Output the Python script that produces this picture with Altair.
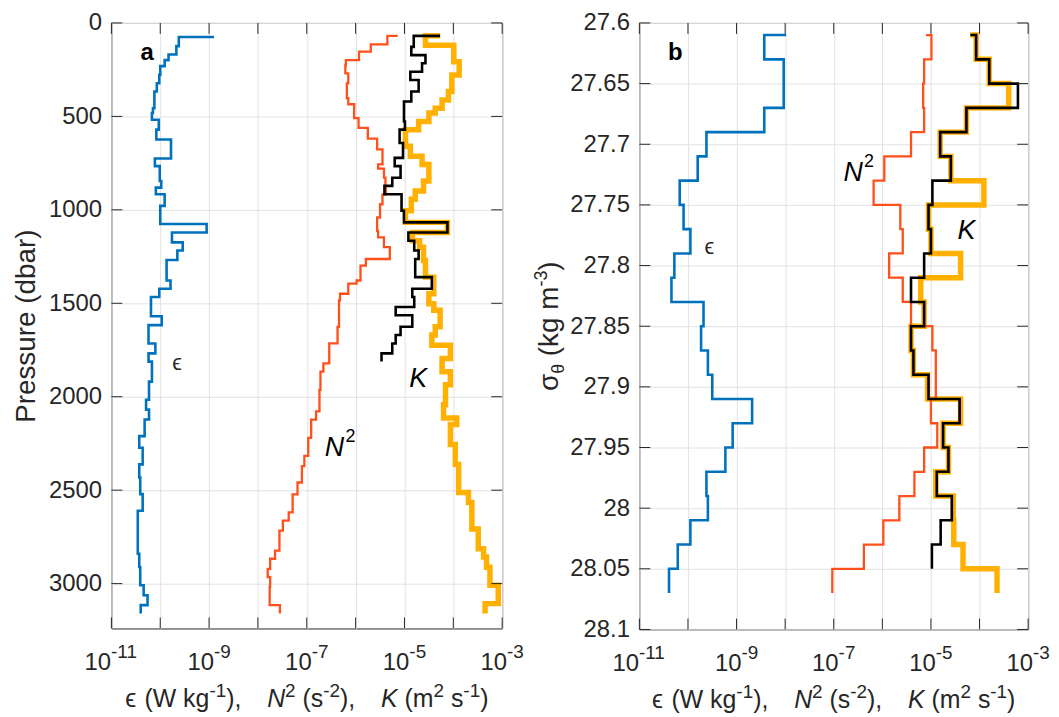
import altair as alt
import pandas as pd

FONT = "Liberation Sans"
INK = "#262626"
GRID = "#e2e2e2"
BLUE = "#0072BD"
RED = "#FF4F1A"
GOLD = "#FFB000"
BLACK = "#000000"

# ---------------- panel a : pressure (dbar) vs log10 value ----------------
eps_a_p = [75, 124, 169, 199, 231, 278, 323, 367, 456, 482, 518, 571, 624, 725, 766, 846, 881, 917,
           979, 1076, 1121, 1174, 1218, 1268, 1378, 1422, 1466, 1569, 1617, 1715, 1768, 1812, 1919,
           2016, 2069, 2122, 2211, 2273, 2362, 2432, 2521, 2610, 2752, 2840, 2911, 3009, 3062, 3115, 3160]
eps_a_log = [-8.90, -9.62, -9.67, -9.83, -9.91, -10.00, -10.02, -10.07, -10.12, -10.15, -10.17, -10.03,
             -10.08, -9.78, -10.11, -10.01, -9.98, -10.09, -9.91, -10.00, -9.05, -9.76, -9.54, -9.65,
             -9.87, -9.79, -10.02, -10.19, -9.97, -10.24, -10.10, -10.24, -10.17, -10.23, -10.29, -10.23,
             -10.32, -10.43, -10.36, -10.43, -10.41, -10.36, -10.46, -10.46, -10.43, -10.41, -10.34,
             -10.26, -10.40]

n2_a_p = [69, 115, 154, 199, 225, 270, 323, 403, 435, 509, 562, 619, 677, 757, 779, 828, 881, 917, 970,
          1041, 1112, 1147, 1200, 1263, 1298, 1378, 1395, 1449, 1484, 1626, 1715, 1821, 1866, 1963, 2078,
          2123, 2220, 2317, 2371, 2459, 2522, 2619, 2663, 2717, 2823, 2867, 2921, 2965, 3018, 3115, 3160]
n2_a_log = [-5.14, -5.35, -5.69, -5.93, -6.20, -6.21, -6.15, -6.18, -6.15, -6.03, -5.94, -5.75, -5.56,
            -5.45, -5.54, -5.42, -5.39, -5.38, -5.45, -5.50, -5.56, -5.54, -5.42, -5.30, -5.79, -5.90,
            -5.98, -6.15, -6.32, -6.34, -6.37, -6.54, -6.66, -6.72, -6.74, -6.81, -6.91, -6.97, -7.05,
            -7.10, -7.19, -7.29, -7.37, -7.49, -7.56, -7.65, -7.75, -7.80, -7.75, -7.76, -7.55]

kb_a_p = [69, 128, 172, 216, 261, 305, 367, 420, 527, 571, 642, 722, 766, 828, 872, 917, 1005, 1067,
          1121, 1165, 1218, 1263, 1360, 1422, 1466, 1520, 1564, 1626, 1670, 1715, 1768, 1812]
kb_a_log = [-4.27, -4.81, -4.86, -4.57, -4.64, -4.88, -4.71, -4.86, -5.01, -4.99, -5.10, -5.03, -5.20,
            -5.08, -5.25, -5.41, -5.06, -5.01, -4.12, -4.92, -4.80, -4.71, -4.78, -4.44, -4.84, -4.80,
            -5.18, -4.84, -5.08, -5.18, -5.25, -5.47]

ko_a_p = [69, 119, 208, 279, 367, 412, 456, 482, 527, 571, 660, 713, 757, 846, 899, 943, 1005, 1067,
          1121, 1165, 1200, 1271, 1360, 1449, 1502, 1537, 1626, 1670, 1724, 1795, 1866, 1936, 2043, 2114,
          2149, 2256, 2362, 2513, 2566, 2708, 2814, 2858, 2912, 3009, 3107, 3160]
ko_a_log = [-4.27, -4.57, -3.99, -3.88, -4.03, -4.10, -4.23, -4.37, -4.50, -4.71, -4.98, -4.88, -4.64,
            -4.50, -4.61, -4.78, -4.86, -4.98, -4.12, -4.84, -4.69, -4.61, -4.57, -4.40, -4.50, -4.40,
            -4.27, -4.37, -4.44, -4.06, -4.23, -4.06, -4.16, -4.20, -3.93, -4.06, -3.96, -3.89, -3.69,
            -3.62, -3.49, -3.38, -3.32, -3.25, -3.08, -3.35]

# ---------------- panel b : sigma_theta vs log10 value ----------------
sig_b = [27.61, 27.63, 27.65, 27.67, 27.69, 27.71, 27.73, 27.75, 27.77, 27.79, 27.81, 27.83,
         27.85, 27.87, 27.89, 27.91, 27.93, 27.95, 27.97, 27.99, 28.01, 28.03, 28.05, 28.07]
eps_b_log = [-7.98, -8.43, -8.03, -8.03, -8.43, -9.62, -9.80, -10.17, -10.09, -9.95, -10.28, -10.34,
             -9.68, -9.73, -9.59, -9.50, -8.68, -9.08, -9.23, -9.62, -9.59, -9.95, -10.21, -10.39]
n2_b_log = [-5.10, -4.99, -5.14, -5.16, -5.14, -5.41, -5.96, -6.18, -5.63, -5.58, -5.86, -5.58,
            -5.41, -4.97, -4.90, -4.90, -5.00, -4.87, -5.14, -5.34, -5.65, -5.98, -6.38, -7.03]
kb_b_log = [-4.19, -4.07, -3.80, -3.21, -4.27, -4.81, -4.59, -4.97, -5.05, -5.00, -5.14, -5.41,
            -5.14, -5.41, -5.36, -5.05, -4.41, -4.75, -4.64, -4.88, -4.57, -4.80, -4.98]
ko_b_log = [-4.19, -4.07, -3.80, -3.40, -4.27, -4.81, -4.59, -3.91, -5.05, -5.00, -4.39, -5.21,
            -5.14, -5.41, -5.36, -5.07, -4.39, -4.75, -4.64, -4.90, -4.54, -4.53, -4.34, -3.64]

# ---------------- axes / text ----------------
decades = [1e-11, 1e-10, 1e-9, 1e-8, 1e-7, 1e-6, 1e-5, 1e-4, 1e-3]
lab_two = [1e-11]                      # labelled decade with a two-digit exponent
lab_two_exp = ["-11"]
lab_one = [1e-9, 1e-7, 1e-5, 1e-3]    # labelled decades with one-digit exponents
lab_one_exp = ["-9", "-7", "-5", "-3"]
p_ticks = [0, 500, 1000, 1500, 2000, 2500, 3000]
s_ticks = [27.6, 27.65, 27.7, 27.75, 27.8, 27.85, 27.9, 27.95, 28.0, 28.05, 28.1]

# x title pieces: (text, font size, style, raise, extra gap after)
x_title_pieces = [("\u03f5", 25, "normal", 0, 0), (" (W kg", 25, "normal", 0, 0), ("-1", 19, "normal", 10, 0),
                  ("), ", 25, "normal", 0, 19), ("N", 25, "italic", 0, 0), ("2", 19, "normal", 10, 0),
                  (" (s", 25, "normal", 0, 0), ("-2", 19, "normal", 10, 0), ("), ", 25, "normal", 0, 19),
                  ("K", 25, "italic", 0, 0), (" (m", 25, "normal", 0, 0), ("2", 19, "normal", 10, 0),
                  (" s", 25, "normal", 0, 0), ("-1", 19, "normal", 10, 0), (")", 25, "normal", 0, 0)]
# sigma_theta title pieces (rotated)
y_title_b_pieces = [("\u03c3", 28, "normal", 0, 0), ("\u03b8", 18, "normal", -6, 0),
                    (" (kg m", 28, "normal", 0, 0), ("-3", 18, "normal", 11, 0), (")", 28, "normal", 0, 0)]

# annotations (value, vertical coordinate)
ann_a = pd.DataFrame({"x": [2.2e-10, 3.7e-7, 1.9e-5], "y": [1821, 2273, 1903]})
ann_b = pd.DataFrame({"x": [2.75e-10, 2.5e-7, 5.4e-5], "y": [27.7847, 27.7238, 27.7716]})
tag_a = pd.DataFrame({"t": ["a"], "x": [5.4e-11], "y": [163]})
tag_b = pd.DataFrame({"t": ["b"], "x": [5.5e-11], "y": [27.625]})

EM = {" ": .278, "(": .333, ")": .333, "W": .944, "k": .5, "g": .556, ",": .278, "s": .5, "m": .833,
      "N": .722, "K": .667, "-": .333, "\u03f5": .5, "\u03c3": .618, "\u03b8": .556}


def text_width(s, size):
    return sum(EM.get(c, 0.556) for c in s) * size


XSCALE = alt.Scale(type="log", domain=[1e-11, 1e-3], nice=False)
XAXIS = alt.Axis(values=decades, labels=False, grid=True, gridColor=GRID, gridWidth=1,
                 ticks=False, domain=False, title="")
TL = 11
one = pd.DataFrame({"k": [0]})


def txt(text, size, style, x, y, **kw):
    return (alt.Chart(one).mark_text(text=text, font=FONT, fontSize=size, fontStyle=style, color=INK,
                                     baseline="alphabetic", **kw)
            .encode(x=alt.value(x), y=alt.value(y)))


def x_title(W, H):
    total = sum(text_width(s, z) + g for s, z, _, _, g in x_title_pieces)
    cur = W / 2 - total / 2
    out = []
    for s, z, st, r, g in x_title_pieces:
        lead = len(s) - len(s.lstrip(" "))
        out.append(txt(s.strip(), z, st, cur + lead * .278 * z, H + 79 - r, align="left"))
        cur += text_width(s, z) + g
    return out


def profile(depths, logs):
    return pd.DataFrame({"y": depths, "x": [10.0 ** v for v in logs], "i": list(range(len(depths)))})


def panel(series, yscale, yaxis, yticks, W, H, ann, tag, extra):
    X = alt.X("x:Q", scale=XSCALE, axis=XAXIS)
    Y = alt.Y("y:Q", scale=yscale, axis=yaxis)
    layers = []
    for df, color, width in series:
        layers.append(alt.Chart(df).mark_line(interpolate="step-after", color=color,
                                              strokeWidth=width, clip=True)
                      .encode(x=X, y=Y, order=alt.Order("i:Q")))
    xt = pd.DataFrame({"x": decades})
    yt = pd.DataFrame({"y": yticks})
    rule = dict(color=INK, strokeWidth=1)
    txt_base = dict(font=FONT, color=INK, baseline="alphabetic", align="left")
    layers += [
        alt.Chart(xt).mark_rule(**rule).encode(x=X, y=alt.value(0), y2=alt.value(TL)),
        alt.Chart(xt).mark_rule(**rule).encode(x=X, y=alt.value(H - TL), y2=alt.value(H)),
        alt.Chart(yt).mark_rule(**rule).encode(y=Y, x=alt.value(0), x2=alt.value(TL)),
        alt.Chart(yt).mark_rule(**rule).encode(y=Y, x=alt.value(W - TL), x2=alt.value(W)),
        # x tick labels: "10" + raised exponent
        alt.Chart(pd.DataFrame({"x": lab_two})).mark_text(text="10", fontSize=24, dx=-27.1, **txt_base)
        .encode(x=X, y=alt.value(H + 42)),
        alt.Chart(pd.DataFrame({"x": lab_two, "e": lab_two_exp})).mark_text(fontSize=19, dx=-0.4, **txt_base)
        .encode(x=X, y=alt.value(H + 30), text="e:N"),
        alt.Chart(pd.DataFrame({"x": lab_one})).mark_text(text="10", fontSize=24, dx=-21.8, **txt_base)
        .encode(x=X, y=alt.value(H + 42)),
        alt.Chart(pd.DataFrame({"x": lab_one, "e": lab_one_exp})).mark_text(fontSize=19, dx=4.9, **txt_base)
        .encode(x=X, y=alt.value(H + 30), text="e:N"),
        # curve labels
        alt.Chart(ann.iloc[[0]]).mark_text(text="\u03f5", font=FONT, fontSize=22, color=INK)
        .encode(x=X, y=Y),
        alt.Chart(ann.iloc[[1]]).mark_text(text="N", font=FONT, fontSize=27, fontStyle="italic", color=BLACK)
        .encode(x=X, y=Y),
        alt.Chart(ann.iloc[[1]]).mark_text(text="2", font=FONT, fontSize=18, color=BLACK, align="left",
                                           dx=11, dy=-11)
        .encode(x=X, y=Y),
        alt.Chart(ann.iloc[[2]]).mark_text(text="K", font=FONT, fontSize=27, fontStyle="italic", color=BLACK)
        .encode(x=X, y=Y),
        alt.Chart(tag).mark_text(font=FONT, fontSize=24, fontWeight="bold", color=BLACK)
        .encode(x=X, y=Y, text="t:N"),
    ]
    layers += x_title(W, H)
    layers += extra
    return alt.layer(*layers).properties(width=W, height=H)


WA, HA = 393, 609
WB, HB = 391, 610

ya_scale = alt.Scale(domain=[0, 3240], reverse=True, nice=False, zero=False)
ya_axis = alt.Axis(values=p_ticks, format="d", grid=True, gridColor=GRID, ticks=False, domain=False,
                   labelFont=FONT, labelFontSize=24, labelColor=INK, labelPadding=10, labelFlush=False,
                   labelOverlap=False, title="Pressure (dbar)", titleFont=FONT, titleFontSize=28,
                   titleFontWeight="normal", titleColor=INK, titlePadding=8)

yb_scale = alt.Scale(domain=[27.6, 28.1], reverse=True, nice=False, zero=False)
yb_axis = alt.Axis(values=s_ticks, labelExpr="format(datum.value, '.2~f')", grid=True, gridColor=GRID,
                   ticks=False, domain=False, labelFont=FONT, labelFontSize=24, labelColor=INK,
                   labelPadding=10, labelFlush=False, labelOverlap=False, title="")


def y_title_b(H, xb):
    total = sum(text_width(s, z) + g for s, z, _, _, g in y_title_b_pieces)
    cur = H / 2 + total / 2
    out = []
    for s, z, st, r, g in y_title_b_pieces:
        lead = len(s) - len(s.lstrip(" "))
        out.append(txt(s.strip(), z, st, xb - r, cur - lead * .278 * z, angle=270, align="left"))
        cur -= text_width(s, z) + g
    return out


pa = panel([
    (profile(ko_a_p, ko_a_log), GOLD, 5.5),
    (profile(n2_a_p, n2_a_log), RED, 2.3),
    (profile(eps_a_p, eps_a_log), BLUE, 2.6),
    (profile(kb_a_p, kb_a_log), BLACK, 2.6),
], ya_scale, ya_axis, p_ticks, WA, HA, ann_a, tag_a, [])

pb = panel([
    (profile(sig_b, ko_b_log), GOLD, 5.5),
    (profile(sig_b, n2_b_log), RED, 2.3),
    (profile(sig_b, eps_b_log), BLUE, 2.6),
    (profile(sig_b[:len(kb_b_log)], kb_b_log), BLACK, 2.6),
], yb_scale, yb_axis, s_ticks, WB, HB, ann_b, tag_b, y_title_b(HB, -82))

chart = (alt.hconcat(pa, pb, spacing=138, bounds="flush")
         .configure_view(stroke=INK, strokeWidth=1)
         .properties(padding={"left": 4, "top": 0, "right": 0, "bottom": 0}, background="white"))

chart.save("out.html", embed_options={"renderer": "svg", "actions": False})
